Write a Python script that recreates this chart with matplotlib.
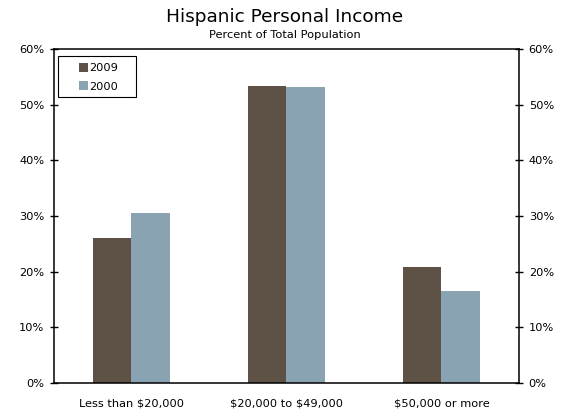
import numpy as np
import matplotlib
matplotlib.use("Agg")
import matplotlib.pyplot as plt
from matplotlib.patches import Rectangle
from matplotlib.ticker import PercentFormatter

categories = ["Less than $20,000", "$20,000 to $49,000", "$50,000 or more"]
share_2009 = [26.0, 53.3, 20.9]
share_2000 = [30.6, 53.1, 16.6]

c2009 = "#5e5247"
c2000 = "#8aa3b2"

plt.rcParams["font.family"] = ["Verdana", "DejaVu Sans"]
plt.rcParams["text.parse_math"] = False

fig = plt.figure(figsize=(5.69, 4.11), dpi=100)
ax = fig.add_axes([0.0949, 0.0681, 0.8172, 0.8127])

x = np.arange(len(categories))
w = 0.25
ax.bar(x - w / 2, share_2009, w, color=c2009, label="2009")
ax.bar(x + w / 2, share_2000, w, color=c2000, label="2000")

ax.set_xlim(-0.5, 2.5)
ax.set_ylim(0, 60)
ax.set_yticks(np.arange(0, 61, 10))
ax.yaxis.set_major_formatter(PercentFormatter(decimals=0))
ax.set_xticks(x)
ax.set_xticklabels(categories, fontsize=8.2)
ax.tick_params(axis="x", length=0, pad=11)
ax.tick_params(axis="y", direction="inout", length=6, width=1,
               labelsize=8.2, left=True, right=True,
               labelleft=True, labelright=True, pad=4)
for s in ax.spines.values():
    s.set_linewidth(1.1)

# legend frame drawn separately so it can be wider than the entries
ax.add_patch(Rectangle((0.0086, 0.857), 0.168, 0.122, transform=ax.transAxes,
                       fill=False, edgecolor="black", linewidth=0.8,
                       zorder=5))
ax.legend(loc="upper left", bbox_to_anchor=(0.054, 0.959),
          fontsize=8.2, frameon=False, handlelength=0.75,
          handleheight=0.85, handletextpad=0.15, borderpad=0,
          labelspacing=0.72, borderaxespad=0)

fig.text(0.5, 0.958, "Hispanic Personal Income", ha="center", va="center",
         fontsize=13.3)
fig.text(0.5, 0.914, "Percent of Total Population", ha="center",
         va="center", fontsize=8.2)

fig.savefig("out.png", dpi=100)
